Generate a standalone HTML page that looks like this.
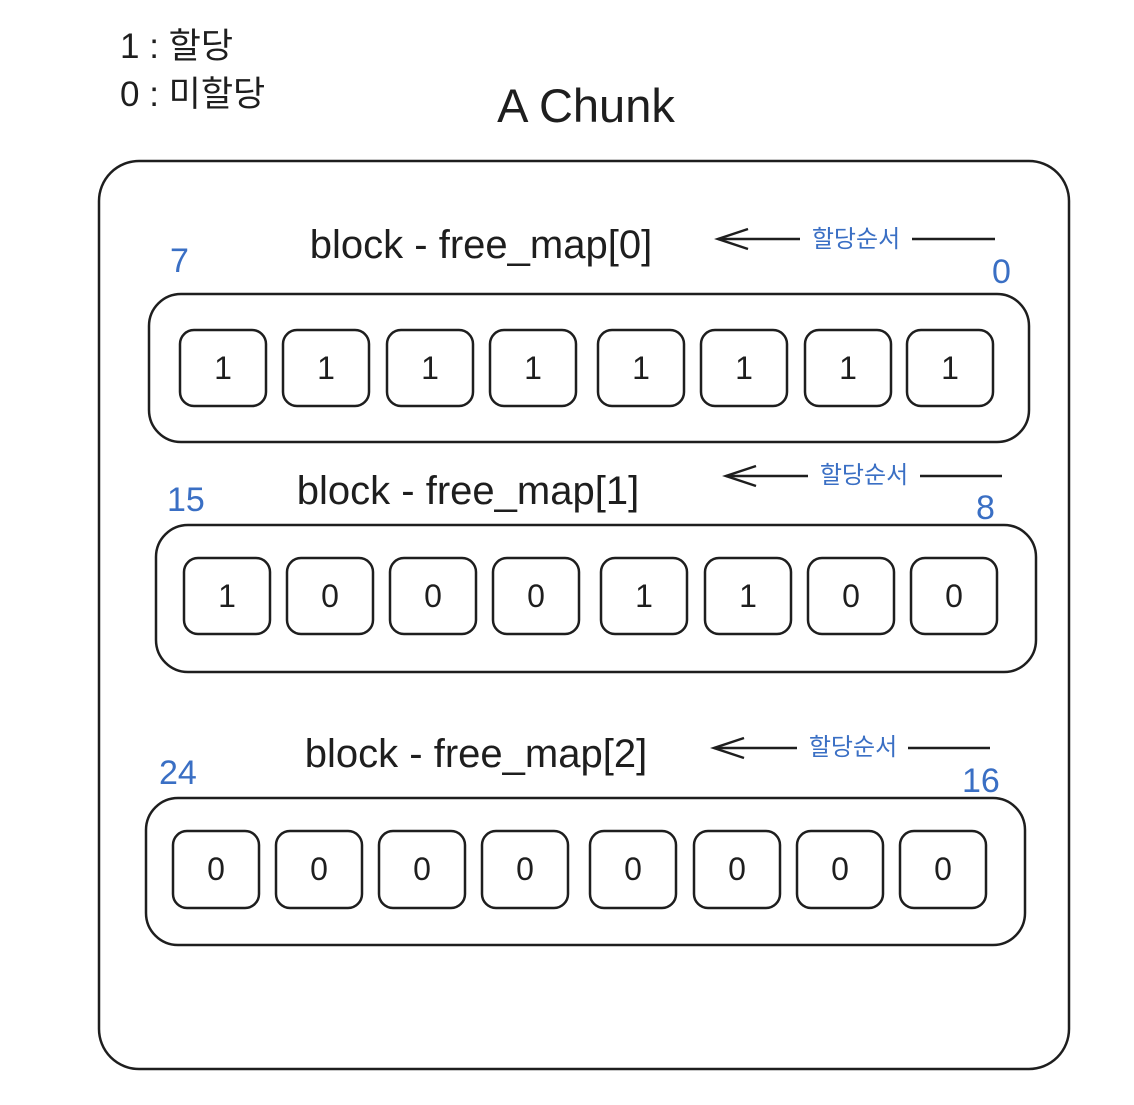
<!DOCTYPE html>
<html><head><meta charset="utf-8"><style>
html,body{margin:0;padding:0;background:#fff;}
body{width:1134px;height:1100px;overflow:hidden;}
svg text{font-family:"Liberation Sans","Noto Sans CJK KR",sans-serif;}
</style></head><body>
<svg width="1134" height="1100" viewBox="0 0 1134 1100" xmlns="http://www.w3.org/2000/svg">
<defs>
<marker id="ah" markerWidth="40" markerHeight="24" refX="32" refY="12" orient="auto" markerUnits="userSpaceOnUse">
<path d="M2 2 L32 12 L2 22" fill="none" stroke="#1e1e1e" stroke-width="2.5"/>
</marker>
</defs>
<g fill="#1e1e1e">
<text x="120" y="58" font-size="35">1 : 할당</text>
<text x="120" y="106" font-size="35">0 : 미할당</text>
<text x="586" y="122" font-size="47" text-anchor="middle">A Chunk</text>
</g>
<rect x="99" y="161" width="970" height="908" rx="40" fill="none" stroke="#1e1e1e" stroke-width="2.5"/>

<!-- Row 1 -->
<text x="481" y="258" font-size="40" text-anchor="middle" fill="#1e1e1e">block - free_map[0]</text>
<line x1="995" y1="239" x2="912" y2="239" stroke="#1e1e1e" stroke-width="2.5"/>
<line x1="800" y1="239" x2="718" y2="239" stroke="#1e1e1e" stroke-width="2.5" marker-end="url(#ah)"/>
<text x="856" y="247" font-size="24" text-anchor="middle" fill="#3a6fc4">할당순서</text>
<text x="170" y="272" font-size="34" fill="#3a6fc4">7</text>
<text x="992" y="283" font-size="34" fill="#3a6fc4">0</text>
<rect x="149" y="294" width="880" height="148" rx="32" fill="none" stroke="#1e1e1e" stroke-width="2.5"/>
<g fill="none" stroke="#1e1e1e" stroke-width="2.5">
<rect x="180" y="330" width="86" height="76" rx="14"/><rect x="283" y="330" width="86" height="76" rx="14"/>
<rect x="387" y="330" width="86" height="76" rx="14"/><rect x="490" y="330" width="86" height="76" rx="14"/>
<rect x="598" y="330" width="86" height="76" rx="14"/><rect x="701" y="330" width="86" height="76" rx="14"/>
<rect x="805" y="330" width="86" height="76" rx="14"/><rect x="907" y="330" width="86" height="76" rx="14"/>
</g>
<g font-size="32" text-anchor="middle" fill="#1e1e1e">
<text x="223" y="379">1</text><text x="326" y="379">1</text><text x="430" y="379">1</text><text x="533" y="379">1</text>
<text x="641" y="379">1</text><text x="744" y="379">1</text><text x="848" y="379">1</text><text x="950" y="379">1</text>
</g>

<!-- Row 2 -->
<text x="468" y="504" font-size="40" text-anchor="middle" fill="#1e1e1e">block - free_map[1]</text>
<line x1="1002" y1="476" x2="920" y2="476" stroke="#1e1e1e" stroke-width="2.5"/>
<line x1="808" y1="476" x2="726" y2="476" stroke="#1e1e1e" stroke-width="2.5" marker-end="url(#ah)"/>
<text x="864" y="483" font-size="24" text-anchor="middle" fill="#3a6fc4">할당순서</text>
<text x="167" y="511" font-size="34" fill="#3a6fc4">15</text>
<text x="976" y="519" font-size="34" fill="#3a6fc4">8</text>
<rect x="156" y="525" width="880" height="147" rx="32" fill="none" stroke="#1e1e1e" stroke-width="2.5"/>
<g fill="none" stroke="#1e1e1e" stroke-width="2.5">
<rect x="184" y="558" width="86" height="76" rx="14"/><rect x="287" y="558" width="86" height="76" rx="14"/>
<rect x="390" y="558" width="86" height="76" rx="14"/><rect x="493" y="558" width="86" height="76" rx="14"/>
<rect x="601" y="558" width="86" height="76" rx="14"/><rect x="705" y="558" width="86" height="76" rx="14"/>
<rect x="808" y="558" width="86" height="76" rx="14"/><rect x="911" y="558" width="86" height="76" rx="14"/>
</g>
<g font-size="32" text-anchor="middle" fill="#1e1e1e">
<text x="227" y="607">1</text><text x="330" y="607">0</text><text x="433" y="607">0</text><text x="536" y="607">0</text>
<text x="644" y="607">1</text><text x="748" y="607">1</text><text x="851" y="607">0</text><text x="954" y="607">0</text>
</g>

<!-- Row 3 -->
<text x="476" y="767" font-size="40" text-anchor="middle" fill="#1e1e1e">block - free_map[2]</text>
<line x1="990" y1="748" x2="908" y2="748" stroke="#1e1e1e" stroke-width="2.5"/>
<line x1="797" y1="748" x2="714" y2="748" stroke="#1e1e1e" stroke-width="2.5" marker-end="url(#ah)"/>
<text x="853" y="755" font-size="24" text-anchor="middle" fill="#3a6fc4">할당순서</text>
<text x="159" y="784" font-size="34" fill="#3a6fc4">24</text>
<text x="962" y="792" font-size="34" fill="#3a6fc4">16</text>
<rect x="146" y="798" width="879" height="147" rx="32" fill="none" stroke="#1e1e1e" stroke-width="2.5"/>
<g fill="none" stroke="#1e1e1e" stroke-width="2.5">
<rect x="173" y="831" width="86" height="77" rx="14"/><rect x="276" y="831" width="86" height="77" rx="14"/>
<rect x="379" y="831" width="86" height="77" rx="14"/><rect x="482" y="831" width="86" height="77" rx="14"/>
<rect x="590" y="831" width="86" height="77" rx="14"/><rect x="694" y="831" width="86" height="77" rx="14"/>
<rect x="797" y="831" width="86" height="77" rx="14"/><rect x="900" y="831" width="86" height="77" rx="14"/>
</g>
<g font-size="32" text-anchor="middle" fill="#1e1e1e">
<text x="216" y="880">0</text><text x="319" y="880">0</text><text x="422" y="880">0</text><text x="525" y="880">0</text>
<text x="633" y="880">0</text><text x="737" y="880">0</text><text x="840" y="880">0</text><text x="943" y="880">0</text>
</g>
</svg>
</body></html>
